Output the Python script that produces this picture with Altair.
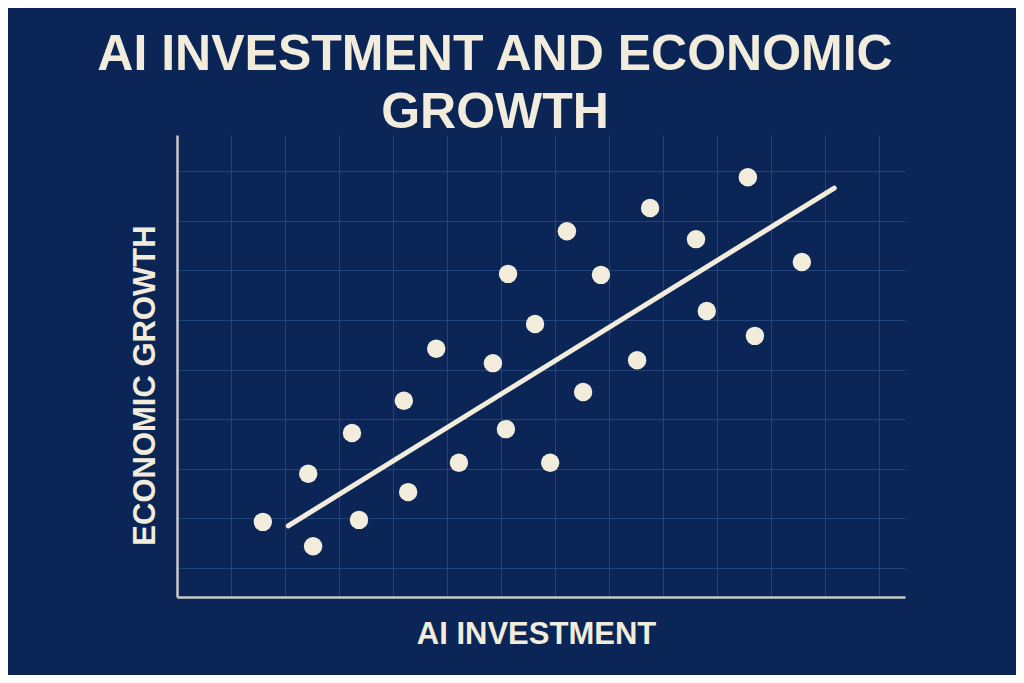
import altair as alt
import pandas as pd

# AI investment (x) and economic growth (y), arbitrary index units
invest = [1.59, 2.52, 2.43, 3.37, 3.24, 4.28, 4.20, 4.80, 5.22, 5.85, 6.09, 6.13,
          6.63, 6.91, 7.22, 7.52, 7.85, 8.52, 8.76, 9.61, 9.81, 10.57, 10.70, 11.57]
growth = [0.93, 0.44, 1.90, 0.97, 2.72, 1.53, 3.37, 4.42, 2.12, 4.13, 2.80, 5.93,
          4.92, 2.12, 6.79, 3.55, 5.91, 4.19, 7.26, 6.63, 5.18, 7.88, 4.68, 6.17]

# trend line end points
trend_x = [2.06, 12.17]
trend_y = [0.85, 7.66]

x_ticks = list(range(0, 14))
y_ticks = list(range(0, 9))

BG = "#0b2656"
CREAM = "#f1ecdb"
GRID = "#21457b"
FONT = "Liberation Sans"

pts = pd.DataFrame({"invest": invest, "growth": growth})
trend = pd.DataFrame({"invest": trend_x, "growth": trend_y})

xscale = alt.Scale(domain=[0, 13.48], nice=False, zero=False)
yscale = alt.Scale(domain=[-0.585, 8.73], nice=False, zero=False)

xaxis = alt.Axis(
    title="AI INVESTMENT", values=x_ticks, labels=False, ticks=False,
    grid=True, gridColor=GRID, gridWidth=1,
    domain=True, domainColor="#c9cac6", domainWidth=2.5,
    titleFont=FONT, titleFontSize=31, titleFontWeight="bold", titleColor=CREAM,
    titleAnchor="start", titleAlign="center", titleBaseline="middle",
    titleX=359, titleY=37,
)
yaxis = alt.Axis(
    title="ECONOMIC GROWTH", values=y_ticks, labels=False, ticks=False,
    grid=True, gridColor=GRID, gridWidth=1,
    domain=True, domainColor="#c9cac6", domainWidth=2.5,
    titleFont=FONT, titleFontSize=31, titleFontWeight="bold", titleColor=CREAM,
    titleAlign="center", titleBaseline="middle", titleAngle=270,
    titleX=-32, titleY=250,
)

line = alt.Chart(trend).mark_line(color=CREAM, strokeWidth=5, strokeCap="round").encode(
    x=alt.X("invest:Q", scale=xscale, axis=xaxis),
    y=alt.Y("growth:Q", scale=yscale, axis=yaxis),
)

dots = alt.Chart(pts).mark_circle(color=CREAM, opacity=1, size=340).encode(
    x=alt.X("invest:Q", scale=xscale),
    y=alt.Y("growth:Q", scale=yscale),
)

chart = (line + dots).properties(
    width=728, height=462,
    autosize=alt.AutoSizeParams(type="none"),
    padding={"left": 169, "top": 127, "right": 111, "bottom": 78},
    background=BG,
    title=alt.TitleParams(
        text=["AI INVESTMENT AND ECONOMIC", "GROWTH"],
        font=FONT, fontSize=50, fontWeight="bold", color=CREAM,
        anchor="middle", dx=-46, dy=9, lineHeight=58, offset=6,
    ),
).configure_view(stroke=None)

chart.save("out.html", embed_options={"renderer": "svg", "actions": False})
